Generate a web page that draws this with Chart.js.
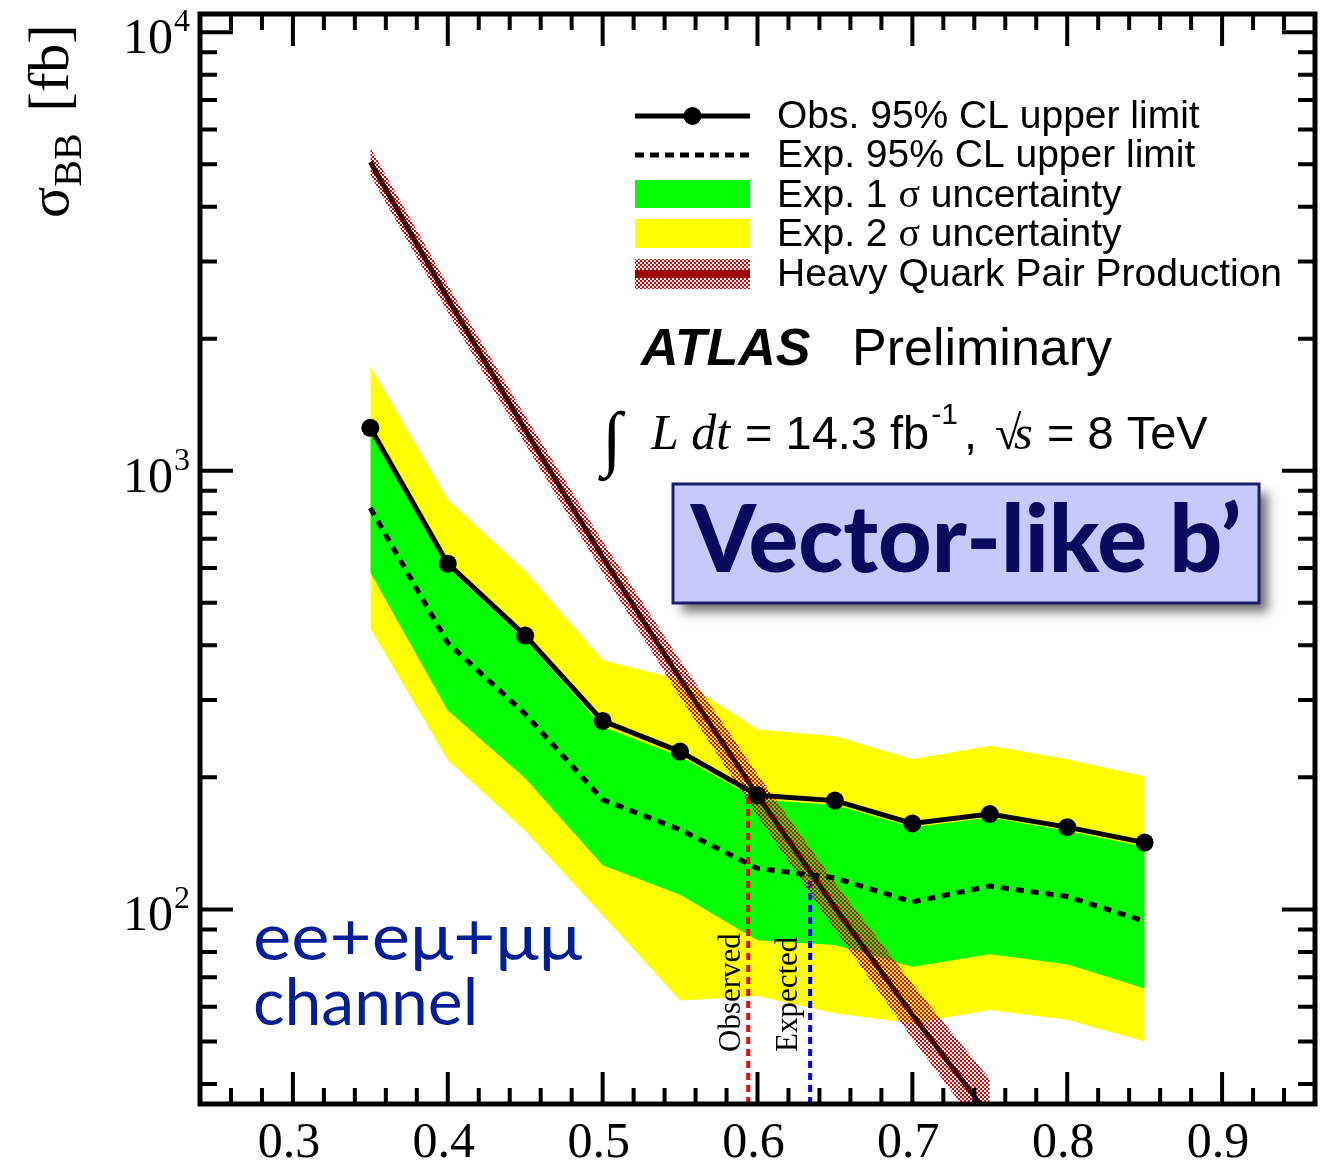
<!DOCTYPE html>
<html>
<head>
<meta charset="utf-8">
<script src="https://cdn.jsdelivr.net/npm/chart.js@4.4.0/dist/chart.umd.min.js"></script>
<style>
  html, body { margin: 0; padding: 0; background: #fff; }
  #wrap { width: 1331px; height: 1165px; }
</style>
</head>
<body>
<div id="wrap"><canvas id="limits" width="1331" height="1165"></canvas></div>
<script>
'use strict';

// b' mass points [TeV]
const massPoints = [0.35, 0.40, 0.45, 0.50, 0.55, 0.60, 0.65, 0.70, 0.75, 0.80, 0.85];

// 95% CL upper limits on sigma_BB [fb]
const observedLimit = [1253, 614, 421, 269, 229, 182, 177, 157, 165, 154, 142];
const expectedLimit = [822, 405, 279, 178, 152, 124, 118, 104, 113, 107, 94];

// expected limit bands
const oneSigmaUp   = [1227, 601, 412, 261, 223, 178, 173, 154, 162, 151, 139];
const oneSigmaDown = [586, 284, 199, 126, 108, 85, 83, 74, 79, 75, 66];
const twoSigmaUp   = [1728, 859, 590, 370, 334, 257, 248, 220, 236, 220, 201];
const twoSigmaDown = [437, 219, 151, 97, 62, 63.5, 58, 55, 59, 56, 50];

// heavy quark pair production cross section with its uncertainty
const theoryMass = [0.35, 0.40, 0.45, 0.50, 0.55, 0.60, 0.65, 0.70, 0.75];
const theoryXsec = [5060, 2470, 1240, 636, 336, 182, 101, 57.5, 33.7];
const theoryHigh = [5450, 2650, 1334, 691, 370, 203, 115, 67.6, 41];
const theoryLow  = [4720, 2300, 1152, 586, 305, 163, 90, 50.7, 29.4];

// where the limits cross the theory curve
const observedMassLimit = 0.594;
const expectedMassLimit = 0.634;
const observedCrossXsec = 186;
const expectedCrossXsec = 120;

// axes
const xRange = [0.24, 0.96];
const yRange = [36, 11000];
const xTickLabels = ['0.3', '0.4', '0.5', '0.6', '0.7', '0.8', '0.9'];
const yDecades = [2, 3, 4];

const legendLabels = [
    'Obs. 95% CL upper limit',
    'Exp. 95% CL upper limit',
    'Exp. 1 \u03c3 uncertainty',
    'Exp. 2 \u03c3 uncertainty',
    'Heavy Quark Pair Production'
];

const SANS = '"Liberation Sans", Arial, sans-serif';
const SERIF = '"Liberation Serif", "DejaVu Serif", serif';
const GILL = 'Lato, "Noto Sans", sans-serif';

function pts(xs, ys) {
    return xs.map(function (x, i) { return {x: x, y: ys[i]}; });
}

// red checkerboard for the theory band
function hatchPattern() {
    let c = document.createElement('canvas');
    c.width = 4; c.height = 4;
    let g = c.getContext('2d');
    g.fillStyle = '#e80000';
    g.fillRect(0, 0, 2, 2);
    g.fillRect(2, 2, 2, 2);
    return g.createPattern(c, 'repeat');
}

// draw text pieces one after another, each with its own font
function runs(ctx, x, y, parts) {
    parts.forEach(function (p) {
        ctx.font = p.font;
        ctx.fillText(p.text, x + (p.dx || 0), y + (p.dy || 0));
        x += (p.dx || 0) + ctx.measureText(p.text).width;
    });
    return x;
}

const hatch = hatchPattern();

const framePlugin = {
    id: 'frame',
    afterDatasetsDraw: function (chart) {
        const ctx = chart.ctx;
        const ca = chart.chartArea;
        const xs = chart.scales.x;
        const ys = chart.scales.y;
        ctx.save();
        ctx.strokeStyle = '#000';
        ctx.fillStyle = '#000';

        // ticks on all four sides, pointing inwards
        ctx.lineWidth = 4;
        ctx.beginPath();
        for (let k = 12; k <= 48; k++) {
            let px = xs.getPixelForValue(k / 50);
            let len = (k % 5 === 0) ? 32 : 16;
            ctx.moveTo(px, ca.bottom); ctx.lineTo(px, ca.bottom - len);
            ctx.moveTo(px, ca.top); ctx.lineTo(px, ca.top + len);
        }
        for (let d = 10; d <= 10000; d *= 10) {
            for (let j = 1; j <= 9; j++) {
                let v = d * j;
                if (v < yRange[0] || v > yRange[1]) continue;
                let py = ys.getPixelForValue(v);
                let len = (j === 1) ? 33 : 17;
                ctx.moveTo(ca.left, py); ctx.lineTo(ca.left + len, py);
                ctx.moveTo(ca.right, py); ctx.lineTo(ca.right - len, py);
            }
        }
        ctx.stroke();

        ctx.lineWidth = 5;
        ctx.strokeRect(ca.left, ca.top, ca.right - ca.left, ca.bottom - ca.top);

        // x tick labels
        ctx.font = '50px ' + SERIF;
        ctx.textAlign = 'center';
        ctx.textBaseline = 'alphabetic';
        xTickLabels.forEach(function (t) {
            ctx.fillText(t, xs.getPixelForValue(parseFloat(t)) - 4, ca.bottom + 53);
        });

        // y tick labels 10^n
        ctx.textAlign = 'right';
        yDecades.forEach(function (e) {
            let py = ys.getPixelForValue(Math.pow(10, e));
            ctx.font = '32px ' + SERIF;
            let w = ctx.measureText(String(e)).width;
            ctx.fillText(String(e), ca.left - 10, py - 1);
            ctx.font = '50px ' + SERIF;
            ctx.fillText('10', ca.left - 11 - w, py + 21);
        });

        // y axis title
        ctx.save();
        ctx.translate(68, 218);
        ctx.rotate(-Math.PI / 2);
        ctx.textAlign = 'left';
        runs(ctx, 0, 0, [
            {text: '\u03c3', font: '58px ' + SERIF},
            {text: 'BB', font: '40px ' + SERIF, dy: 13},
            {text: '[fb]', font: '58px ' + SERIF, dx: 22}
        ]);
        ctx.restore();

        ctx.restore();
    },
    afterDraw: function (chart) {
        const ctx = chart.ctx;
        const ca = chart.chartArea;
        const xs = chart.scales.x;
        ctx.save();
        ctx.textAlign = 'left';
        ctx.textBaseline = 'alphabetic';

        // legend
        const lx0 = 635, lx1 = 750, tx = 777;
        const rows = [114, 153, 193, 232, 272];
        ctx.strokeStyle = '#000';
        ctx.lineWidth = 5;
        ctx.beginPath();
        ctx.moveTo(lx0, rows[0] + 2); ctx.lineTo(lx1, rows[0] + 2);
        ctx.stroke();
        ctx.fillStyle = '#000';
        ctx.beginPath();
        ctx.arc((lx0 + lx1) / 2, rows[0] + 2, 9, 0, Math.PI * 2);
        ctx.fill();

        ctx.setLineDash([9, 6]);
        ctx.beginPath();
        ctx.moveTo(lx0, rows[1] + 2); ctx.lineTo(lx1, rows[1] + 2);
        ctx.stroke();
        ctx.setLineDash([]);

        ctx.fillStyle = '#00ff00';
        ctx.fillRect(lx0, rows[2] - 13, lx1 - lx0, 28);
        ctx.fillStyle = '#ffff00';
        ctx.fillRect(lx0, rows[3] - 13, lx1 - lx0, 29);
        ctx.fillStyle = hatch;
        ctx.fillRect(lx0, rows[4] - 13, lx1 - lx0, 30);
        ctx.strokeStyle = '#a00000';
        ctx.lineWidth = 8;
        ctx.beginPath();
        ctx.moveTo(lx0, rows[4] + 2); ctx.lineTo(lx1, rows[4] + 2);
        ctx.stroke();

        ctx.fillStyle = '#000';
        legendLabels.forEach(function (label, i) {
            let parts = label.split('\u03c3');
            if (parts.length === 1) {
                ctx.font = '39px ' + SANS;
                ctx.fillText(label, tx, rows[i] + 14);
            } else {
                runs(ctx, tx, rows[i] + 14, [
                    {text: parts[0], font: '39px ' + SANS},
                    {text: '\u03c3', font: '40px ' + SERIF},
                    {text: parts[1], font: '39px ' + SANS}
                ]);
            }
        });

        // experiment label
        ctx.font = 'italic bold 52px ' + SANS;
        ctx.fillText('ATLAS', 641, 365);
        ctx.font = '52px ' + SANS;
        ctx.fillText('Preliminary', 852, 365);

        // luminosity and energy
        ctx.font = '72px ' + SERIF;
        ctx.fillText('\u222b', 602, 462);
        ctx.font = 'italic 50px ' + SERIF;
        ctx.fillText('L dt', 651, 449);
        let x = runs(ctx, 745, 449, [{text: '= 14.3 fb', font: '47px ' + SANS}]);
        ctx.font = '30px ' + SANS;
        ctx.fillText('-1', x + 2, 424);
        ctx.font = '47px ' + SANS;
        ctx.fillText(',', 964, 449);
        ctx.font = '48px ' + SERIF;
        ctx.fillText('\u221a', 995, 449);
        ctx.font = 'italic 48px ' + SERIF;
        ctx.fillText('s', 1014, 449);
        ctx.font = '47px ' + SANS;
        ctx.fillText('= 8 TeV', 1047, 449);

        // process box
        ctx.save();
        ctx.shadowColor = 'rgba(0,0,0,0.55)';
        ctx.shadowBlur = 10;
        ctx.shadowOffsetX = 9;
        ctx.shadowOffsetY = 9;
        ctx.fillStyle = '#c5cafb';
        ctx.fillRect(673, 484, 586, 119);
        ctx.restore();
        ctx.strokeStyle = '#1c1c6e';
        ctx.lineWidth = 3;
        ctx.strokeRect(673, 484, 586, 119);
        ctx.fillStyle = '#0a0a5e';
        ctx.font = '900 80px ' + GILL;
        let vw = ctx.measureText('Vector-like b\u2019').width;
        let vs = Math.round(80 * 548 / vw);
        ctx.font = '900 ' + vs + 'px ' + GILL;
        ctx.textAlign = 'center';
        ctx.fillText('Vector-like b\u2019', 966, 572);

        // channel label, first line stretched to the width of the original lettering
        ctx.textAlign = 'left';
        ctx.fillStyle = '#001e96';
        ctx.font = '66px ' + GILL;
        let cw = ctx.measureText('channel').width;
        let cs = Math.round(66 * 225 / cw);
        ctx.font = cs + 'px ' + GILL;
        let line1 = 'ee+e\u03bc+\u03bc\u03bc';
        let sx = 329 / ctx.measureText(line1).width;
        ctx.save();
        ctx.translate(253, 960);
        ctx.scale(sx, 1);
        ctx.fillText(line1, 0, 0);
        ctx.restore();
        ctx.fillText('channel', 253, 1025);

        // labels along the mass limit lines
        ctx.fillStyle = '#000';
        ctx.font = '31px ' + SERIF;
        [[observedMassLimit, 'Observed', 8], [expectedMassLimit, 'Expected', 13]].forEach(function (l) {
            ctx.save();
            ctx.translate(xs.getPixelForValue(l[0]) - l[2], ca.bottom - 52);
            ctx.rotate(-Math.PI / 2);
            ctx.fillText(l[1], 0, 0);
            ctx.restore();
        });

        ctx.restore();
    }
};

new Chart(document.getElementById('limits'), {
    type: 'line',
    data: {
        datasets: [
            {
                label: 'Exp. 2 sigma up',
                data: pts(massPoints, twoSigmaUp),
                borderWidth: 0, pointRadius: 0,
                backgroundColor: '#ffff00',
                fill: '+1', order: 10
            },
            {
                label: 'Exp. 2 sigma down',
                data: pts(massPoints, twoSigmaDown),
                borderWidth: 0, pointRadius: 0, fill: false, order: 10
            },
            {
                label: 'Exp. 1 sigma up',
                data: pts(massPoints, oneSigmaUp),
                borderWidth: 0, pointRadius: 0,
                backgroundColor: '#00ff00',
                fill: '+1', order: 9
            },
            {
                label: 'Exp. 1 sigma down',
                data: pts(massPoints, oneSigmaDown),
                borderWidth: 0, pointRadius: 0, fill: false, order: 9
            },
            {
                label: 'Observed mass limit',
                data: [{x: observedMassLimit, y: yRange[0]}, {x: observedMassLimit, y: observedCrossXsec}],
                borderColor: '#ff0000', borderWidth: 4, borderDash: [7, 5],
                pointRadius: 0, fill: false, order: 8
            },
            {
                label: 'Expected mass limit',
                data: [{x: expectedMassLimit, y: yRange[0]}, {x: expectedMassLimit, y: expectedCrossXsec}],
                borderColor: '#0000ff', borderWidth: 4, borderDash: [7, 5],
                pointRadius: 0, fill: false, order: 8
            },
            {
                label: 'Theory up',
                data: pts(theoryMass, theoryHigh),
                borderWidth: 0, pointRadius: 0,
                backgroundColor: hatch,
                fill: '+1', order: 6
            },
            {
                label: 'Theory down',
                data: pts(theoryMass, theoryLow),
                borderWidth: 0, pointRadius: 0, fill: false, order: 6
            },
            {
                label: 'Heavy Quark Pair Production',
                data: pts(theoryMass, theoryXsec),
                borderColor: '#360202', borderWidth: 5,
                pointRadius: 0, fill: false, order: 5
            },
            {
                label: 'Exp. 95% CL upper limit',
                data: pts(massPoints, expectedLimit),
                borderColor: '#000', borderWidth: 5, borderDash: [8, 7],
                pointRadius: 0, fill: false, order: 2
            },
            {
                label: 'Obs. 95% CL upper limit',
                data: pts(massPoints, observedLimit),
                borderColor: '#000', borderWidth: 5,
                pointRadius: 9, pointBackgroundColor: '#000', pointBorderWidth: 0,
                fill: false, order: 1
            }
        ]
    },
    options: {
        responsive: false,
        animation: false,
        events: [],
        layout: {padding: {left: 200, right: 16, top: 14, bottom: 61}},
        elements: {line: {tension: 0}},
        plugins: {legend: {display: false}, tooltip: {enabled: false}},
        scales: {
            x: {type: 'linear', min: xRange[0], max: xRange[1], display: false},
            y: {type: 'logarithmic', min: yRange[0], max: yRange[1], display: false}
        }
    },
    plugins: [framePlugin]
});
</script>
</body>
</html>
